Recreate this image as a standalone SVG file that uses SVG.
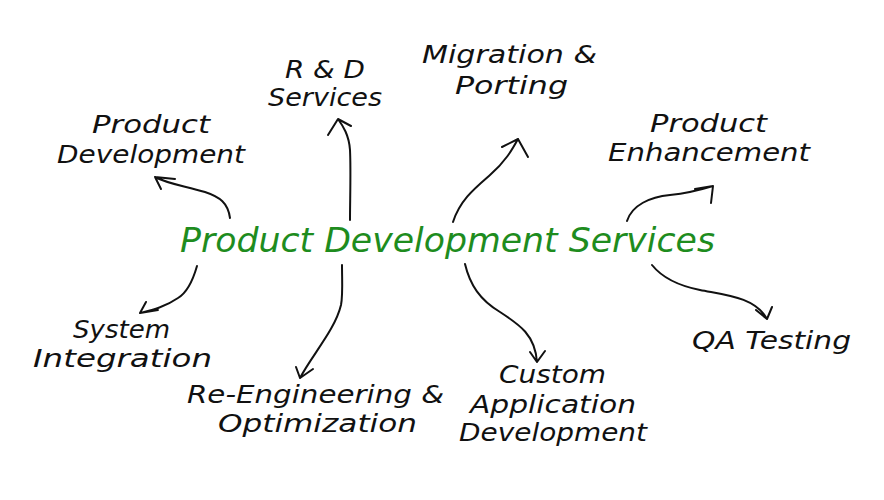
<svg xmlns="http://www.w3.org/2000/svg" width="884" height="500" viewBox="0 0 884 500">
<style>
.lbl{font-family:"DejaVu Sans","Liberation Sans",sans-serif;font-style:italic;font-size:24px;fill:#111;}
.main{font-family:"DejaVu Sans","Liberation Sans",sans-serif;font-style:italic;font-size:33px;fill:#1e8c1e;}
.c path{fill:none;stroke:#111;stroke-width:2;stroke-linecap:round;stroke-linejoin:round;}
</style>
<rect width="884" height="500" fill="#fff"/>
<g id="center"><text class="main" x="180" y="252" textLength="535" lengthAdjust="spacingAndGlyphs">Product Development Services</text></g>
<g id="n-product-dev">
<text class="lbl" x="92" y="133" textLength="118" lengthAdjust="spacingAndGlyphs">Product</text>
<text class="lbl" x="57" y="163" textLength="188" lengthAdjust="spacingAndGlyphs">Development</text>
</g>
<g id="n-rd">
<text class="lbl" x="285" y="78" textLength="80" lengthAdjust="spacingAndGlyphs">R &amp; D</text>
<text class="lbl" x="268" y="106" textLength="114" lengthAdjust="spacingAndGlyphs">Services</text>
</g>
<g id="n-migration">
<text class="lbl" x="422" y="63" textLength="175" lengthAdjust="spacingAndGlyphs">Migration &amp;</text>
<text class="lbl" x="455" y="94" textLength="113" lengthAdjust="spacingAndGlyphs">Porting</text>
</g>
<g id="n-enhance">
<text class="lbl" x="650" y="132" textLength="117" lengthAdjust="spacingAndGlyphs">Product</text>
<text class="lbl" x="608" y="161" textLength="202" lengthAdjust="spacingAndGlyphs">Enhancement</text>
</g>
<g id="n-system">
<text class="lbl" x="73" y="338" textLength="97" lengthAdjust="spacingAndGlyphs">System</text>
<text class="lbl" x="33" y="367" textLength="179" lengthAdjust="spacingAndGlyphs">Integration</text>
</g>
<g id="n-reeng">
<text class="lbl" x="187" y="403" textLength="257" lengthAdjust="spacingAndGlyphs">Re-Engineering &amp;</text>
<text class="lbl" x="218" y="432" textLength="199" lengthAdjust="spacingAndGlyphs">Optimization</text>
</g>
<g id="n-custom">
<text class="lbl" x="499" y="383" textLength="107" lengthAdjust="spacingAndGlyphs">Custom</text>
<text class="lbl" x="470" y="413" textLength="166" lengthAdjust="spacingAndGlyphs">Application</text>
<text class="lbl" x="459" y="441" textLength="188" lengthAdjust="spacingAndGlyphs">Development</text>
</g>
<g id="n-qa">
<text class="lbl" x="692" y="349" textLength="159" lengthAdjust="spacingAndGlyphs">QA Testing</text>
</g>
<g id="connectors" class="c">
<path d="M230,218 C228,203 220,197 205,192 C185,186 168,184 155,177 M155,177 L175,179 M155,177 L161,189"/>
<path d="M350,220 C350,200 351,170 350,150 C349,135 343,126 338,119 M338,119 L328,135 M338,119 L351,126"/>
<path d="M453,222 C460,200 475,188 490,175 C505,162 512,150 518,139 M518,139 L502,147 M518,139 L528,157"/>
<path d="M627,221 C632,205 650,197 670,195 C690,193 700,190 713,186 M713,186 L695,189 M713,186 L711,203"/>
<path d="M197,266 C193,280 188,292 178,298 C165,307 152,310 140,313 M140,313 L146,302 M140,313 L158,310"/>
<path d="M342,265 C342,280 343,295 341,305 C335,330 312,355 300,378 M300,378 L296,367 M300,378 L313,369"/>
<path d="M465,264 C470,285 480,300 500,312 C520,325 535,335 537,362 M537,362 L530,352 M537,362 L545,351"/>
<path d="M652,265 C660,275 675,285 700,290 C725,295 755,297 767,319 M767,319 L756,310 M767,319 L772,307"/>
</g>
</svg>
